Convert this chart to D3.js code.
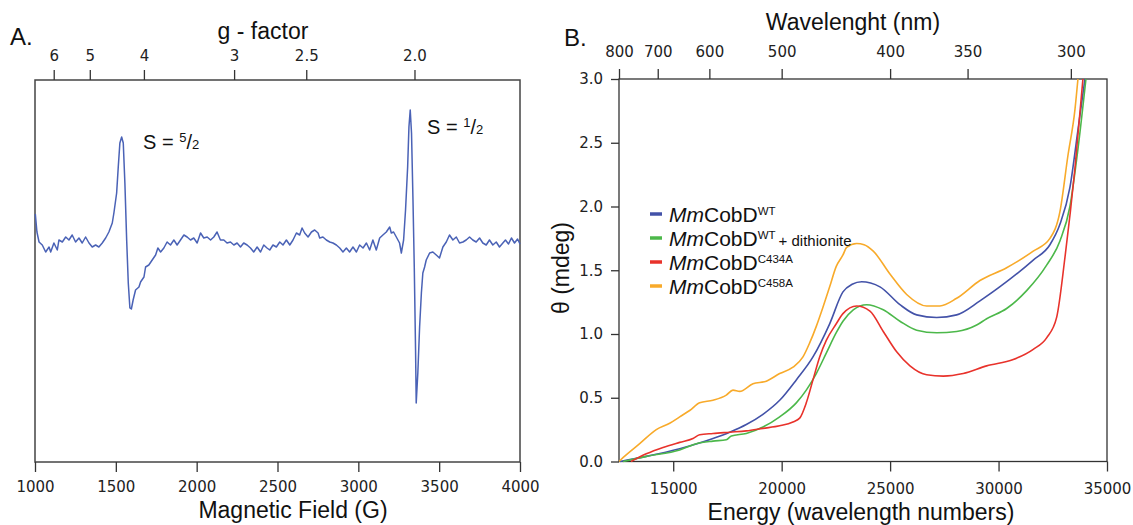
<!DOCTYPE html>
<html>
<head>
<meta charset="utf-8">
<script src="https://cdn.jsdelivr.net/npm/d3@7"></script>
<style>
  html, body { margin: 0; padding: 0; background: #fff; }
  svg { display: block; }
  .tick text { font-family: "DejaVu Sans", Verdana, sans-serif; font-size: 15px; fill: #222; }
  .tick line { stroke: #333; stroke-width: 1.3; }
  .ttl { font-family: "Liberation Sans", Arial, sans-serif; fill: #111; }
</style>
</head>
<body>
<svg id="chart" width="1133" height="525"></svg>
<script>
// ---------- Panel A: X-band EPR spectrum ----------
const microwaveGHz = 9.37;                 // B(G) = 714.477 * nu(GHz) / g
const fieldTicks = [1000, 1500, 2000, 2500, 3000, 3500, 4000];
const gTickValues = [6, 5, 4, 3, 2.5, 2.0];
const gTickLabels = ["6", "5", "4", "3", "2.5", "2.0"];

// [field (G), derivative signal (a.u.)]
const eprTrace = [
  [1002,31],[1012,13],[1025,3],[1045,0],[1066,-7],[1087,-2],[1097,-7],[1117,2],[1138,-5],[1148,5],
  [1169,3],[1190,8],[1210,5],[1230,10],[1251,3],[1272,7],[1292,2],[1313,8],[1334,2],[1354,-2],
  [1375,0],[1395,-2],[1416,2],[1437,7],[1457,13],[1478,22],[1488,32],[1505,52],[1515,78],[1525,102],
  [1536,108],[1546,102],[1556,62],[1567,5],[1577,-38],[1587,-63],[1596,-64],[1607,-55],[1622,-45],[1643,-42],
  [1653,-37],[1674,-32],[1684,-22],[1704,-20],[1725,-15],[1746,-10],[1760,-3],[1777,-7],[1797,-3],[1817,3],
  [1838,0],[1859,5],[1879,0],[1900,5],[1921,10],[1941,8],[1962,5],[1982,7],[2003,2],[2024,12],
  [2044,7],[2065,8],[2086,5],[2106,8],[2126,13],[2147,5],[2168,5],[2188,2],[2209,3],[2230,0],
  [2250,2],[2271,-2],[2291,2],[2312,0],[2333,-3],[2353,-7],[2374,-2],[2395,-7],[2415,0],[2435,-3],
  [2452,-5],[2472,0],[2493,-2],[2514,3],[2534,0],[2555,5],[2576,0],[2596,5],[2617,12],[2637,10],
  [2652,17],[2668,12],[2689,8],[2710,13],[2730,15],[2751,12],[2761,7],[2781,8],[2802,5],[2823,3],
  [2843,2],[2864,0],[2885,-3],[2905,-7],[2926,-3],[2946,-7],[2967,-2],[2988,-7],[3008,0],[3029,-3],
  [3050,2],[3070,-5],[3090,5],[3111,-5],[3132,7],[3152,10],[3173,13],[3194,18],[3204,12],[3218,13],
  [3235,8],[3255,2],[3266,-8],[3280,5],[3292,35],[3305,78],[3313,118],[3321,135],[3329,112],[3338,45],
  [3346,-22],[3354,-105],[3358,-158],[3368,-128],[3379,-82],[3390,-48],[3399,-28],[3410,-22],[3420,-15],[3441,-8],
  [3461,-7],[3482,-10],[3502,-13],[3523,-2],[3544,3],[3564,10],[3585,5],[3606,8],[3626,2],[3647,3],
  [3667,5],[3688,8],[3708,5],[3729,3],[3750,7],[3770,2],[3791,0],[3811,5],[3832,0],[3853,3],
  [3873,-2],[3894,2],[3910,5],[3929,1],[3947,7],[3966,2],[3985,6],[4000,1]
];

// ---------- Panel B: CD spectra, [energy (cm^-1), theta (mdeg)] ----------
const energyTicks = [15000, 20000, 25000, 30000, 35000];
const thetaTicks = [0, 0.5, 1.0, 1.5, 2.0, 2.5, 3.0];
const wavelengthTicks = [800, 700, 600, 500, 400, 350, 300];

const cdWT = [
  [12546,0.00],[13759,0.04],[15298,0.10],[16833,0.18],[17603,0.23],[18369,0.29],[19138,0.37],[19908,0.48],
  [20674,0.64],[21443,0.82],[22213,1.08],[22826,1.33],[23250,1.39],[23689,1.41],[24100,1.40],[24532,1.37],
  [25454,1.23],[26224,1.15],[27146,1.13],[28068,1.15],[29142,1.26],[30373,1.41],[31599,1.58],[32369,1.70],
  [32830,1.86],[33291,2.15],[33660,2.60],[33983,3.00]
];
const cdWTdithionite = [
  [12684,0.00],[13759,0.04],[15298,0.09],[16064,0.14],[16833,0.16],[17447,0.17],[17677,0.20],[18369,0.22],
  [19138,0.27],[19908,0.35],[20674,0.46],[21135,0.56],[21596,0.69],[22057,0.85],[22517,1.01],[22826,1.10],
  [23301,1.19],[23919,1.23],[24684,1.19],[25454,1.10],[26224,1.03],[27146,1.01],[28068,1.02],[28990,1.07],
  [29451,1.12],[30373,1.20],[31295,1.34],[32217,1.54],[32830,1.73],[33291,2.00],[33660,2.45],
  [34029,3.00]
];
const cdC434A = [
  [13053,0.00],[13759,0.06],[14528,0.11],[15298,0.15],[15911,0.18],[16220,0.21],[16833,0.22],[17603,0.23],
  [18369,0.24],[19138,0.26],[19908,0.28],[20521,0.31],[20830,0.34],[21135,0.46],[21443,0.64],[21752,0.82],
  [22057,0.95],[22517,1.08],[22826,1.16],[23458,1.22],[24071,1.18],[24684,1.02],[25302,0.86],[25915,0.75],
  [26685,0.68],[27450,0.67],[28372,0.69],[29451,0.75],[30677,0.80],[31599,0.88],[32217,0.97],[32678,1.13],
  [33061,1.60],[33522,2.30],[33890,3.00]
];
const cdC458A = [
  [12500,0.00],[12684,0.03],[13454,0.14],[14220,0.25],[14837,0.30],[15298,0.35],[15759,0.40],[16220,0.46],
  [16833,0.48],[17447,0.52],[17755,0.56],[18064,0.55],[18677,0.61],[19291,0.63],[19908,0.69],[20521,0.74],
  [20982,0.82],[21291,0.93],[21596,1.06],[21904,1.21],[22213,1.37],[22517,1.53],[22826,1.62],[22997,1.68],
  [23458,1.71],[23800,1.70],[24223,1.65],[24993,1.47],[25763,1.31],[26685,1.22],[27298,1.22],[28068,1.28],
  [29142,1.42],[30373,1.52],[31599,1.65],[32369,1.75],[32830,1.96],[33199,2.40],[33522,2.76],[33660,3.00]
];

const seriesData = [cdWT, cdWTdithionite, cdC434A, cdC458A];
const seriesSup = ["WT", "WT", "C434A", "C458A"];
const seriesNote = ["", "+ dithionite", "", ""];
const seriesColor = ["#4352a8", "#4cb84a", "#e8322b", "#f8aa2a"];

const svg = d3.select("#chart");
const noDomain = g => g.select(".domain").remove();

// ===== Panel A =====
const A = { left: 35, right: 520, top: 80, bottom: 462 };
const xB = d3.scaleLinear().domain([1000, 4000]).range([A.left, A.right]);
const yA = d3.scaleLinear().domain([-217, 165]).range([A.bottom, A.top]);
const gFieldConst = 714.477 * microwaveGHz;

const pA = svg.append("g");
pA.append("rect")
  .attr("x", A.left).attr("y", A.top)
  .attr("width", A.right - A.left).attr("height", A.bottom - A.top)
  .attr("fill", "none").attr("stroke", "#444").attr("stroke-width", 1.5);

pA.append("g").attr("transform", `translate(0,${A.bottom})`)
  .call(d3.axisBottom(xB).tickValues(fieldTicks).tickFormat(d3.format("d"))
        .tickSize(10).tickSizeOuter(0).tickPadding(9.5))
  .call(noDomain);

pA.append("g").attr("transform", `translate(0,${A.top})`)
  .call(d3.axisTop(xB).tickValues(gTickValues.map(g => gFieldConst / g))
        .tickFormat((d, i) => gTickLabels[i])
        .tickSize(10).tickSizeOuter(0).tickPadding(9.5))
  .call(noDomain);

pA.append("path")
  .datum(eprTrace)
  .attr("fill", "none").attr("stroke", "#4a62b6").attr("stroke-width", 1.5)
  .attr("stroke-linejoin", "round")
  .attr("d", d3.line().x(d => xB(d[0])).y(d => yA(d[1])));

pA.append("text").attr("class", "ttl").attr("x", 10).attr("y", 45)
  .attr("font-size", 24).text("A.");
pA.append("text").attr("class", "ttl").attr("x", 263).attr("y", 39)
  .attr("text-anchor", "middle").attr("font-size", 23).text("g - factor");
pA.append("text").attr("class", "ttl").attr("x", 293).attr("y", 518)
  .attr("text-anchor", "middle").attr("font-size", 23).text("Magnetic Field (G)");

function spinLabel(x, y, num) {
  const t = pA.append("text").attr("class", "ttl").attr("x", x).attr("y", y).attr("font-size", 20);
  t.append("tspan").text("S = ");
  t.append("tspan").attr("font-size", 13).attr("dy", -7).text(num);
  t.append("tspan").attr("dy", 7).text("/");
  t.append("tspan").attr("font-size", 13).text("2");
}
spinLabel(143, 149, "5");
spinLabel(427, 134, "1");

// ===== Panel B =====
const B = { left: 619, right: 1107, top: 79, bottom: 461.5 };
const xE = d3.scaleLinear().domain([12500, 35000]).range([B.left, B.right]);
const yT = d3.scaleLinear().domain([0, 3]).range([B.bottom, B.top]);

const pB = svg.append("g");
pB.append("rect")
  .attr("x", B.left).attr("y", B.top)
  .attr("width", B.right - B.left).attr("height", B.bottom - B.top)
  .attr("fill", "none").attr("stroke", "#333").attr("stroke-width", 1.3);

pB.append("g").attr("transform", `translate(0,${B.bottom})`)
  .call(d3.axisBottom(xE).tickValues(energyTicks).tickFormat(d3.format("d"))
        .tickSize(10).tickSizeOuter(0).tickPadding(12))
  .call(noDomain);

pB.append("g").attr("transform", `translate(0,${B.top})`)
  .call(d3.axisTop(xE).tickValues(wavelengthTicks.map(l => 1e7 / l))
        .tickFormat(d => d3.format("d")(Math.round(1e7 / d)))
        .tickSize(10).tickSizeOuter(0).tickPadding(12))
  .call(noDomain);

pB.append("g").attr("transform", `translate(${B.left},0)`)
  .call(d3.axisLeft(yT).tickValues(thetaTicks).tickFormat(d3.format(".1f"))
        .tickSize(8).tickSizeOuter(0).tickPadding(8))
  .call(noDomain);

pB.append("clipPath").attr("id", "clipB").append("rect")
  .attr("x", B.left).attr("y", B.top - 1)
  .attr("width", B.right - B.left).attr("height", B.bottom - B.top + 2);

const cdLine = d3.line().curve(d3.curveMonotoneX).x(d => xE(d[0])).y(d => yT(d[1]));
pB.append("g").attr("clip-path", "url(#clipB)")
  .selectAll("path").data(seriesData).join("path")
  .attr("fill", "none").attr("stroke", (d, i) => seriesColor[i])
  .attr("stroke-width", 1.6).attr("stroke-linejoin", "round")
  .attr("d", cdLine);

// legend
const leg = pB.append("g");
const rows = leg.selectAll("g").data(seriesSup).join("g")
  .attr("transform", (d, i) => `translate(650,${214 + i * 24})`);
rows.append("line").attr("x1", 0).attr("x2", 12).attr("y1", 0).attr("y2", 0)
  .attr("stroke", (d, i) => seriesColor[i]).attr("stroke-width", 3.5);
const rt = rows.append("text").attr("class", "ttl").attr("x", 19).attr("y", 7.5).attr("font-size", 21);
rt.append("tspan").attr("font-style", "italic").text("Mm");
rt.append("tspan").text("CobD");
rt.append("tspan").attr("font-size", 11.5).attr("dy", -6.5).text(d => d);
rt.append("tspan").attr("font-size", 15).attr("dy", 6.5).attr("dx", 3).text((d, i) => seriesNote[i]);

pB.append("text").attr("class", "ttl").attr("x", 564).attr("y", 46)
  .attr("font-size", 24).text("B.");
pB.append("text").attr("class", "ttl").attr("x", 853).attr("y", 30)
  .attr("text-anchor", "middle").attr("font-size", 23).text("Wavelenght (nm)");
pB.append("text").attr("class", "ttl").attr("x", 861).attr("y", 520)
  .attr("text-anchor", "middle").attr("font-size", 23).text("Energy (wavelength numbers)");
pB.append("text").attr("class", "ttl")
  .attr("transform", "translate(569,268) rotate(-90)")
  .attr("text-anchor", "middle").attr("font-size", 23).text("\u03b8 (mdeg)");
</script>
</body>
</html>
